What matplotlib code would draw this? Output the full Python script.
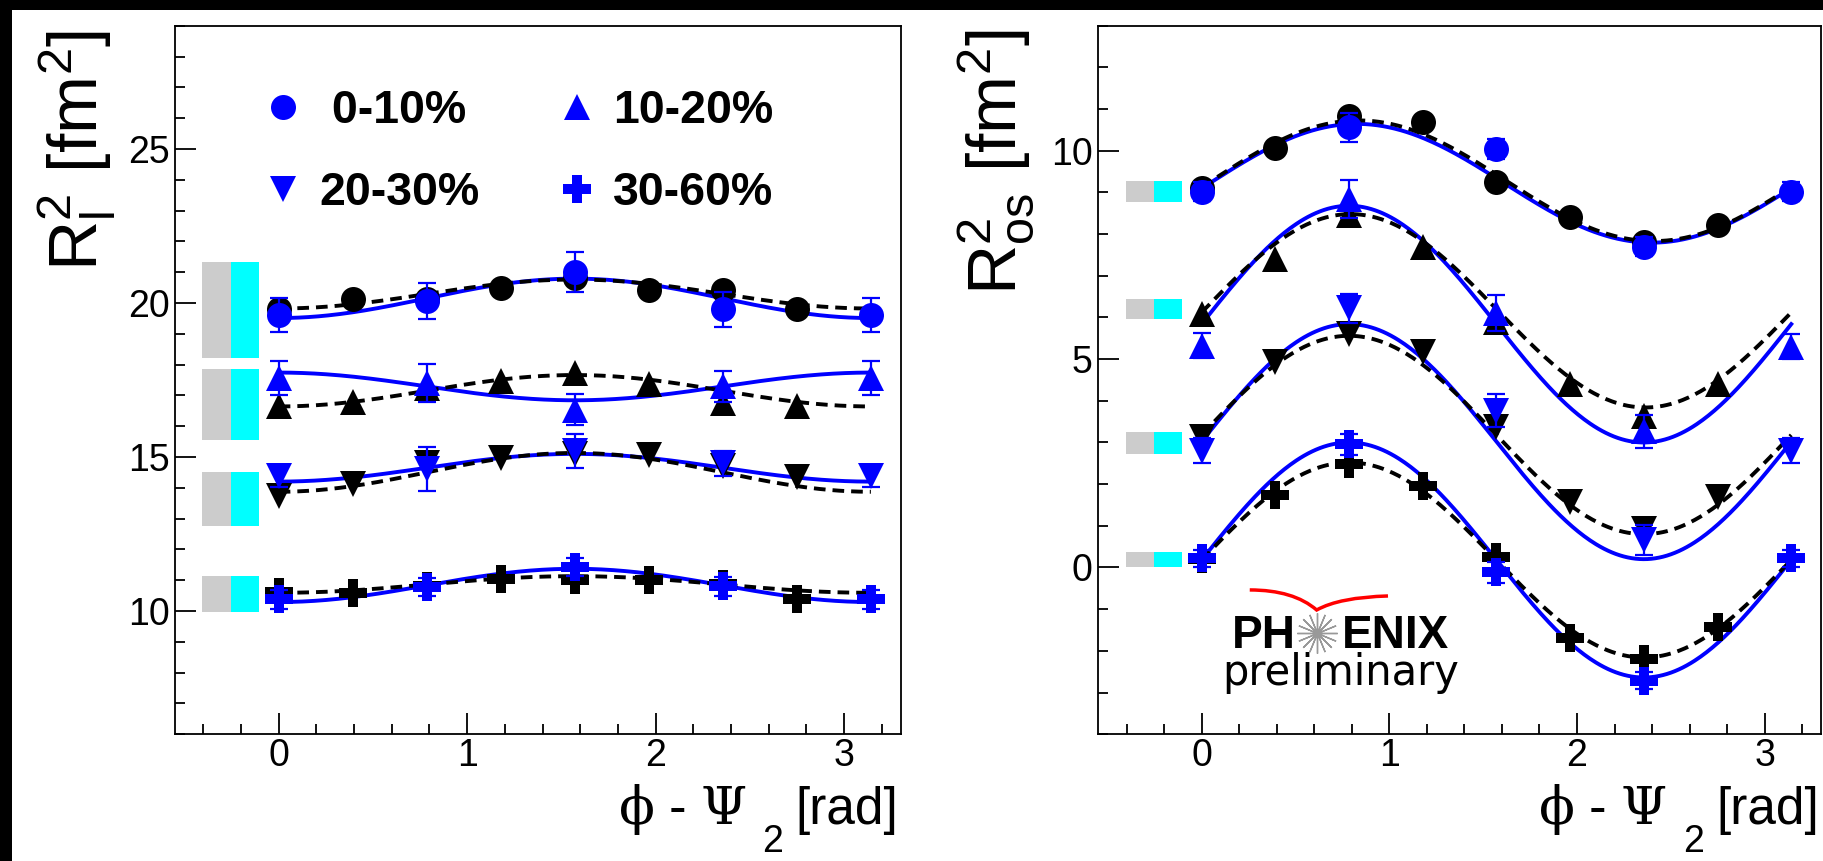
import numpy as np
import matplotlib
matplotlib.use("Agg")
import matplotlib.pyplot as plt
from matplotlib.patches import Rectangle, PathPatch
from matplotlib.path import Path
from matplotlib.ticker import MultipleLocator

plt.rcParams['font.family'] = ['Liberation Sans', 'DejaVu Sans']
plt.rcParams['mathtext.fontset'] = 'custom'
plt.rcParams['mathtext.rm'] = 'DejaVu Serif'
plt.rcParams['mathtext.it'] = 'DejaVu Serif:italic'
plt.rcParams['mathtext.sf'] = 'Liberation Sans'
plt.rcParams['mathtext.bf'] = 'Liberation Sans:bold'

# centrality classes
labels = ["0-10%", "10-20%", "20-30%", "30-60%"]
markers = ["o", "^", "v", "P"]
msizes = [18, 19, 19, 20]

# phi - Psi_2 bins
phi_blue = [0.0, 0.785, 1.571, 2.356, 3.142]
phi_black = [0.0, 0.393, 0.785, 1.178, 1.571, 1.963, 2.356, 2.749]

# ---- R_l^2 (left panel) ----
rl_blue = [
    [19.61, 20.07, 21.00, 19.79, 19.61],
    [17.55, 17.40, 16.53, 17.29, 17.55],
    [14.37, 14.60, 15.20, 14.79, 14.37],
    [10.38, 10.77, 11.43, 10.80, 10.38],
]
rl_blue_err = [
    [0.54, 0.59, 0.65, 0.57, 0.54],
    [0.55, 0.62, 0.50, 0.50, 0.55],
    [0.35, 0.72, 0.55, 0.40, 0.35],
    [0.30, 0.30, 0.30, 0.30, 0.30],
]
rl_black = [
    [19.80, 20.13, 20.12, 20.48, 20.82, 20.43, 20.41, 19.82],
    [16.64, 16.80, 17.25, 17.45, 17.72, 17.38, 16.75, 16.66],
    [13.74, 14.13, 14.80, 14.96, 15.10, 15.07, 14.70, 14.34],
    [10.60, 10.59, 10.80, 11.04, 11.00, 11.00, 10.88, 10.38],
]
# fits: R0 + c*cos(2 phi)
rl_fit0_blue = [20.15, 17.29, 14.65, 10.83]
rl_fitc_blue = [-0.64, 0.45, -0.45, -0.54]
rl_fit0_black = [20.29, 17.15, 14.50, 10.86]
rl_fitc_black = [-0.47, -0.51, -0.63, -0.27]
# systematic boxes
rl_sys_lo = [18.21, 15.56, 12.77, 9.96]
rl_sys_hi = [21.33, 17.86, 14.51, 11.13]

# ---- R_os^2 (right panel) ----
os_blue = [
    [9.02, 10.56, 10.04, 7.70, 9.02],
    [5.32, 8.84, 6.10, 3.27, 5.30],
    [2.80, 6.22, 3.76, 0.66, 2.80],
    [0.22, 2.96, -0.12, -2.72, 0.22],
]
os_blue_err = [
    [0.22, 0.34, 0.24, 0.23, 0.22],
    [0.30, 0.45, 0.43, 0.40, 0.30],
    [0.30, 0.35, 0.40, 0.35, 0.30],
    [0.20, 0.25, 0.25, 0.20, 0.20],
]
os_black = [
    [9.10, 10.06, 10.84, 10.68, 9.25, 8.40, 7.80, 8.22],
    [6.08, 7.40, 8.45, 7.68, 5.90, 4.40, 3.64, 4.40],
    [3.12, 4.92, 5.60, 5.16, 3.36, 1.56, 0.92, 1.68],
    [0.20, 1.74, 2.48, 1.95, 0.24, -1.70, -2.20, -1.44],
]
# fits: R0 + c*cos(2 phi) + s*sin(2 phi)
os_fit0_blue = [9.22, 5.84, 3.02, 0.18]
os_fitc_blue = [-0.12, 0.0, 0.0, 0.0]
os_fits_blue = [1.42, 2.84, 2.82, 2.82]
os_fit0_black = [9.28, 6.16, 3.18, 0.18]
os_fitc_black = [-0.15, -0.04, 0.0, 0.0]
os_fits_black = [1.44, 2.32, 2.38, 2.34]
os_sys_lo = [8.78, 5.96, 2.72, 0.00]
os_sys_hi = [9.28, 6.44, 3.26, 0.36]

BLUE = "#0000ff"
phi_fit = np.linspace(0, np.pi, 300)


def draw_panel(ax, blue, blue_err, black, f0b, fcb, fsb, f0k, fck, fsk, lo, hi):
    handles = []
    for i in range(4):
        # systematic boxes
        ax.add_patch(Rectangle((-0.405, lo[i]), 0.15, hi[i] - lo[i],
                               facecolor="#cccccc", edgecolor="none", zorder=1))
        ax.add_patch(Rectangle((-0.255, lo[i]), 0.15, hi[i] - lo[i],
                               facecolor="#00ffff", edgecolor="none", zorder=1))
        yb = f0b[i] + fcb[i] * np.cos(2 * phi_fit) + fsb[i] * np.sin(2 * phi_fit)
        yk = f0k[i] + fck[i] * np.cos(2 * phi_fit) + fsk[i] * np.sin(2 * phi_fit)
        ax.plot(phi_fit, yb, color=BLUE, lw=2.8, zorder=2)
        ax.plot(phi_fit, yk, color="black", lw=2.8, ls=(0, (3.0, 1.8)), zorder=3)
        ax.plot(phi_black, black[i], ls="none", marker=markers[i], ms=msizes[i],
                color="black", mew=0, zorder=4)
        ax.errorbar(phi_blue, blue[i], yerr=blue_err[i], fmt="none", ecolor=BLUE,
                    elinewidth=1.6, capsize=6.5, capthick=1.6, zorder=5)
        h, = ax.plot(phi_blue, blue[i], ls="none", marker=markers[i], ms=msizes[i],
                     color=BLUE, mew=0, zorder=6)
        handles.append(h)
    return handles


def style_axes(ax, ylim, ymajor):
    ax.set_xlim(-0.55, 3.3)
    ax.set_ylim(*ylim)
    ax.xaxis.set_major_locator(MultipleLocator(1))
    ax.xaxis.set_minor_locator(MultipleLocator(0.2))
    ax.yaxis.set_major_locator(MultipleLocator(ymajor))
    ax.yaxis.set_minor_locator(MultipleLocator(1))
    ax.tick_params(which="both", direction="in", width=1.3, top=False, right=False,
                   labelsize=27, colors="black")
    ax.tick_params(which="major", length=15)
    ax.tick_params(which="minor", length=7.5)
    ax.tick_params(axis="y", pad=4)
    ax.tick_params(axis="x", pad=2.5)
    for sp in ax.spines.values():
        sp.set_linewidth(1.3)


def x_title(ax):
    # "phi - Psi_2 [rad]" with the low ROOT-style subscript
    t1 = ax.text(0.997, -0.127, "[rad]", transform=ax.transAxes, ha="right",
                 va="baseline", fontsize=37)
    ax.annotate("2", xy=(0, 0.22), xycoords=t1, xytext=(-9, -20),
                textcoords="offset points", ha="right", va="baseline", fontsize=27)
    ax.annotate(r"$\mathrm{\phi}$ - $\mathrm{\Psi}$", xy=(0, 0.22), xycoords=t1,
                xytext=(-35, 0), textcoords="offset points", ha="right",
                va="baseline", fontsize=38)


fig = plt.figure(figsize=(18.23, 8.61), dpi=100)
ax1 = fig.add_axes([0.0960, 0.1473, 0.3981, 0.8228])
ax2 = fig.add_axes([0.6025, 0.1473, 0.3964, 0.8228])

h = draw_panel(ax1, rl_blue, rl_blue_err, rl_black, rl_fit0_blue, rl_fitc_blue,
               [0, 0, 0, 0], rl_fit0_black, rl_fitc_black, [0, 0, 0, 0],
               rl_sys_lo, rl_sys_hi)
draw_panel(ax2, os_blue, os_blue_err, os_black, os_fit0_blue, os_fitc_blue,
           os_fits_blue, os_fit0_black, os_fitc_black, os_fits_black,
           os_sys_lo, os_sys_hi)

style_axes(ax1, (6, 29), 5)
style_axes(ax2, (-4, 13), 5)

ax1.legend([h[0], h[2], h[1], h[3]], [" " + labels[0], labels[2], labels[1], labels[3]],
           ncol=2, loc="upper left", bbox_to_anchor=(0.1163, 0.911), frameon=False,
           prop={"family": "Liberation Sans", "weight": "bold", "size": 33.5},
           handlelength=1.0, handletextpad=0.28, columnspacing=1.6,
           labelspacing=0.82, borderpad=0, borderaxespad=0)

ax1.text(-0.135, 0.995, r"$\mathsf{R}^{\mathsf{2}}_{\mathsf{l}}$ [fm$^{\mathsf{2}}$]",
         transform=ax1.transAxes, rotation=90, ha="center", va="top", fontsize=50)
ax2.text(-0.140, 0.995, r"$\mathsf{R}^{\mathsf{2}}_{\mathsf{os}}$ [fm$^{\mathsf{2}}$]",
         transform=ax2.transAxes, rotation=90, ha="center", va="top", fontsize=50)
x_title(ax1)
x_title(ax2)

# PHENIX preliminary logo
ax2.text(0.2735, 0.1217, "PH", transform=ax2.transAxes, ha="right", va="baseline",
         fontsize=33, fontweight="bold")
ax2.text(0.337, 0.1217, "ENIX", transform=ax2.transAxes, ha="left", va="baseline",
         fontsize=33, fontweight="bold")
ax2.plot([0.3021], [0.1424], transform=ax2.transAxes, marker=(16, 2, 0), ms=29,
         mew=1.0, color="#999999", ls="none")
swoosh = Path([(0.2095, 0.2036), (0.2701, 0.2036), (0.3021, 0.1753),
               (0.3339, 0.1933), (0.4008, 0.1951)],
              [Path.MOVETO, Path.CURVE3, Path.CURVE3, Path.CURVE3, Path.CURVE3])
ax2.add_patch(PathPatch(swoosh, transform=ax2.transAxes, facecolor="none",
                        edgecolor="red", lw=2.5))
ax2.text(0.336, 0.0695, "preliminary", transform=ax2.transAxes, ha="center",
         va="baseline", fontsize=30, family="DejaVu Sans")

# black frame strips of the original screenshot
fig.patches.append(Rectangle((0, 1 - 10 / 861), 1, 10 / 861, transform=fig.transFigure,
                             facecolor="black", edgecolor="none"))
fig.patches.append(Rectangle((0, 0), 12 / 1823, 1, transform=fig.transFigure,
                             facecolor="black", edgecolor="none"))

fig.savefig("out.png", dpi=100)
